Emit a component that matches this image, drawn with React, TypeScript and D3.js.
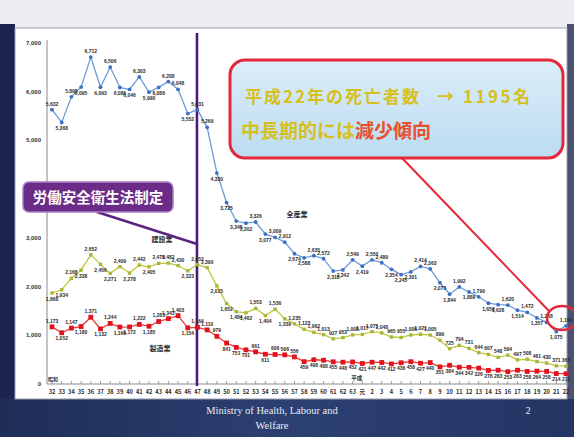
import React from "react";
import * as d3 from "d3";

const years: string[] = [
  "32","33","34","35","36","37","38","39","40","41","42","43","44","45","46","47",
  "48","49","50","51","52","53","54","55","56","57","58","59","60","61","62","63",
  "元","2","3","4","5","6","7","8","9","10","11","12","13","14","15","16","17","18","19","20","21","22",
];

const total: number[] = [
  5632, 5368, 5895, 6095, 6712, 6093, 6506, 6086, 6046, 6303, 5990, 6088, 6208, 6048, 5552, 5631,
  5269, 4330, 3725, 3345, 3302, 3326, 3077, 3009, 2912, 2674, 2588, 2635, 2572, 2318, 2342, 2549,
  2419, 2550, 2489, 2354, 2245, 2301, 2414, 2363, 2078, 1844, 1992, 1889, 1790, 1658, 1628, 1620,
  1514, 1472, 1357, 1268, 1075, 1195,
];

const construction: number[] = [
  1868, 1934, 2168, 2338, 2652, 2456, 2271, 2409, 2278, 2442, 2405, 2476, 2482, 2430, 2323, 2452,
  2390, 2015, 1652, 1484, 1462, 1553, 1404, 1536, 1339, 1235, 1123, 1062, 1013, 927, 953, 1008,
  1017, 1075, 1048, 965, 955, 1006, 1021, 1005, 899, 725, 794, 731, 644, 607, 548, 594,
  497, 508, 461, 430, 371, 365,
];

const manufacturing: number[] = [
  1173, 1052, 1147, 1180, 1371, 1132, 1244, 1169, 1172, 1222, 1185, 1283, 1343, 1403, 1154, 1164,
  1110, 979, 841, 751, 701, 661, 611, 606, 598, 556, 459, 498, 488, 455, 448, 452,
  421, 447, 442, 412, 436, 458, 427, 440, 351, 384, 344, 342, 326, 278, 283, 253,
  283, 258, 264, 258, 214, 211,
];

const yTicks: number[] = [0, 1000, 2000, 3000, 5000, 6000, 7000];

const seriesNames = { total: "全産業", construction: "建設業", manufacturing: "製造業" };
const eraShowa = "昭和";
const eraHeisei = "平成";
const eventLabel = "労働安全衛生法制定";
const calloutLine1a = "平成22年の死亡者数";
const calloutLine1b = "→";
const calloutLine1c = "1195名";
const calloutLine2a = "中長期的には";
const calloutLine2b = "減少傾向";

const fmt = d3.format(",");
const JP = "'Noto Sans CJK JP', 'Noto Sans', sans-serif";
const SANS = "'Liberation Sans', Arial, sans-serif";

export default function App() {
  const W = 574, H = 437;
  const x = d3.scalePoint<string>().domain(years).range([52, 566]);
  const y = d3.scaleLinear().domain([0, 7000]).range([384, 43]);
  const px = (i: number) => x(years[i]) as number;
  const mkLine = (vals: number[]) =>
    d3.line<number>().x((_, i) => px(i)).y((d) => y(d))(vals) || "";

  const labelPos = (vals: number[], i: number, force?: "above" | "below") => {
    if (force === "above") return -4;
    if (force === "below") return 7.5;
    const prev = i > 0 ? vals[i - 1] : vals[i];
    const next = i < vals.length - 1 ? vals[i + 1] : vals[i];
    return vals[i] >= (prev + next) / 2 ? -4 : 7.5;
  };

  const renderLabels = (
    vals: number[],
    key: string,
    forceFrom: number,
    force?: "above" | "below"
  ) =>
    vals.map((v, i) => (
      <text
        key={key + i}
        x={px(i)}
        y={y(v) + labelPos(vals, i, i >= forceFrom ? force : undefined)}
        fontSize={5}
        fontWeight="bold"
        fontFamily={SANS}
        fill="#2a2a2a"
        textAnchor="middle"
      >
        {fmt(v)}
      </text>
    ));

  const purpleX = px(15) - 0.5;

  return (
    <svg width={W} height={H} style={{ position: "absolute", left: 0, top: 0 }}>
      <defs>
        <linearGradient id="calloutFill" x1="0" y1="0" x2="0" y2="1">
          <stop offset="0" stopColor="#dcedf9" />
          <stop offset="1" stopColor="#bcdcf1" />
        </linearGradient>
        <linearGradient id="bandFill" x1="0" y1="0" x2="1" y2="0">
          <stop offset="0" stopColor="#1f2d57" />
          <stop offset="0.5" stopColor="#2c4072" />
          <stop offset="1" stopColor="#243563" />
        </linearGradient>
      </defs>
      {/* slide background */}
      <rect x={0} y={0} width={W} height={H} fill="#eceef2" />
      <rect x={0} y={24} width={15} height={380} fill="#1c2550" />
      <rect x={567} y={24} width={7} height={380} fill="#4a5270" />
      <rect x={0} y={399} width={W} height={38} fill="url(#bandFill)" />
      {/* chart panel */}
      <rect x={15} y={28} width={552} height={371} fill="#ffffff" stroke="#9aa0ad" strokeWidth={1} />

      {/* y axis */}
      <line x1={47} x2={47} y1={40} y2={384} stroke="#8a8a8a" strokeWidth={1} />
      {yTicks.map((t) => (
        <text
          key={"yt" + t}
          x={41}
          y={y(t) + 2}
          fontSize={6}
          fontWeight="bold"
          fontFamily={SANS}
          fill="#333"
          textAnchor="end"
        >
          {fmt(t)}
        </text>
      ))}

      {/* x axis */}
      <line x1={47} x2={568} y1={384} y2={384} stroke="#8a8a8a" strokeWidth={1} />
      {years.map((yr, i) => (
        <g key={"xt" + i}>
          <line x1={px(i)} x2={px(i)} y1={384} y2={381} stroke="#8a8a8a" strokeWidth={0.8} />
          <text
            x={px(i)}
            y={394}
            fontSize={5.6}
            fontWeight="bold"
            fontFamily={JP}
            fill="#2a2a2a"
            textAnchor="middle"
          >
            {yr}
          </text>
        </g>
      ))}
      <text x={53} y={381} fontSize={5} fontWeight="bold" fontFamily={JP} fill="#333" textAnchor="middle">
        {eraShowa}
      </text>
      <text x={px(31) + 4} y={380} fontSize={5.5} fontWeight="bold" fontFamily={JP} fill="#333" textAnchor="middle">
        {eraHeisei}
      </text>

      {/* event vertical line */}
      <line x1={purpleX} x2={purpleX} y1={33} y2={386} stroke="#4b1a7a" strokeWidth={2.6} />

      {/* series lines */}
      <path d={mkLine(total)} fill="none" stroke="#6e9ad8" strokeWidth={1.3} />
      <path d={mkLine(construction)} fill="none" stroke="#c3c83c" strokeWidth={1.3} />
      <path d={mkLine(manufacturing)} fill="none" stroke="#ea3a3a" strokeWidth={1.3} />

      {total.map((v, i) => (
        <circle key={"tp" + i} cx={px(i)} cy={y(v)} r={1.9} fill="#3d6fc4" />
      ))}
      {construction.map((v, i) => (
        <rect key={"cp" + i} x={px(i) - 1.7} y={y(v) - 1.7} width={3.4} height={3.4} fill="#a6b83a" />
      ))}
      {manufacturing.map((v, i) => (
        <rect key={"mp" + i} x={px(i) - 2.4} y={y(v) - 2.4} width={4.8} height={4.8} fill="#e0141e" />
      ))}

      {renderLabels(total, "tl", 99)}
      {renderLabels(construction, "cl", 26, "above")}
      {renderLabels(manufacturing, "ml", 26, "below")}

      {/* series names */}
      <text x={297} y={217} fontSize={7} fontWeight="bold" fontFamily={JP} fill="#2a2a2a" textAnchor="middle">
        {seriesNames.total}
      </text>
      <text x={162} y={242} fontSize={7} fontWeight="bold" fontFamily={JP} fill="#2a2a2a" textAnchor="middle">
        {seriesNames.construction}
      </text>
      <text x={160} y={351} fontSize={7} fontWeight="bold" fontFamily={JP} fill="#2a2a2a" textAnchor="middle">
        {seriesNames.manufacturing}
      </text>

      {/* event annotation */}
      <line x1={97} y1={212} x2={purpleX} y2={244} stroke="#5a2380" strokeWidth={2.4} />
      <rect x={23} y={182} width={150} height={30} rx={6} fill="#6a2c86" stroke="#a57fc0" strokeWidth={1.5} />
      <text x={98} y={203} fontSize={14.5} fontWeight="bold" fontFamily={JP} fill="#ffffff" textAnchor="middle">
        {eventLabel}
      </text>

      {/* callout */}
      <line x1={402} y1={158} x2={549} y2={311} stroke="#e3283a" strokeWidth={2} />
      <ellipse cx={562} cy={318} rx={15} ry={12} fill="none" stroke="#e3283a" strokeWidth={2.4} />
      <rect x={230} y={60} width={333} height={98} rx={15} fill="url(#calloutFill)" stroke="#e3283a" strokeWidth={3} />
      <g fontFamily={JP} fontWeight="bold">
        <text x={245} y={103} fontSize={17} letterSpacing={2} fill="#d6c01c">{calloutLine1a}</text>
        <text x={437} y={103} fontSize={17} fill="#d6c01c">{calloutLine1b}</text>
        <text x={463} y={103} fontSize={17} letterSpacing={2.5} fill="#d6c01c">{calloutLine1c}</text>
        <text x={241} y={138} fontSize={19} fill="#d6c01c">{calloutLine2a}</text>
        <text x={355} y={138} fontSize={19} fill="#e8502a">{calloutLine2b}</text>
      </g>

      {/* footer */}
      <text x={272} y={414} fontSize={10.5} fontFamily="'Liberation Serif', serif" fill="#e8ebf2" textAnchor="middle">
        Ministry of Health, Labour and
      </text>
      <text x={272} y={429} fontSize={10.5} fontFamily="'Liberation Serif', serif" fill="#e8ebf2" textAnchor="middle">
        Welfare
      </text>
      <text x={528} y={414} fontSize={10.5} fontFamily="'Liberation Serif', serif" fill="#e8ebf2" textAnchor="middle">
        2
      </text>
    </svg>
  );
}
